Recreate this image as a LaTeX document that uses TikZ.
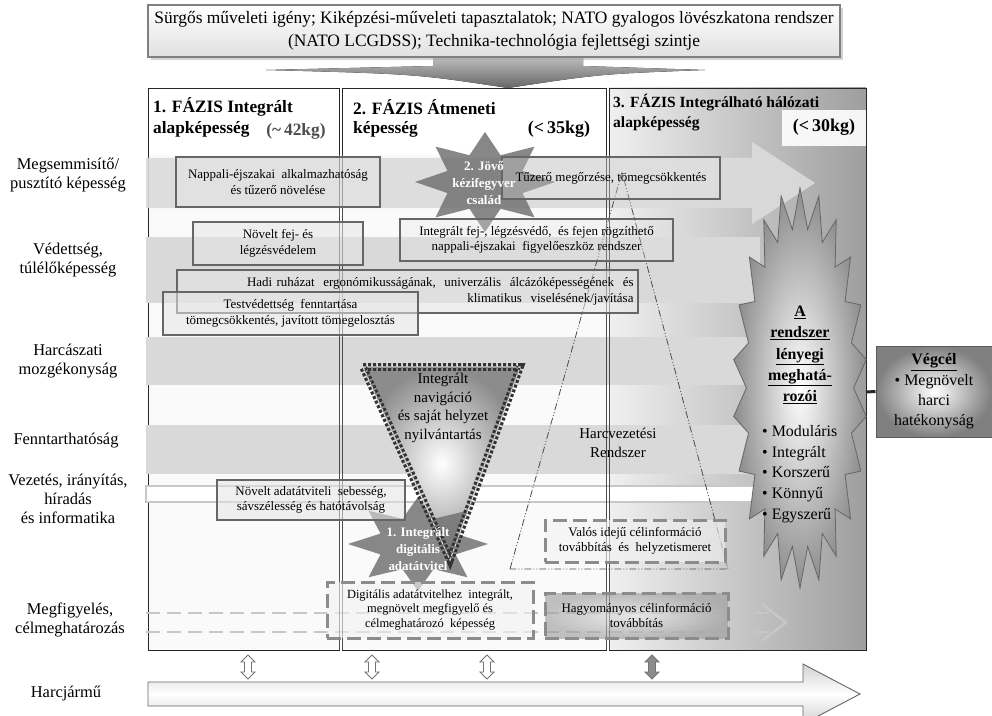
\documentclass[tikz,border=0pt]{standalone}
\usepackage{fontspec}
\setmainfont{Liberation Serif}
\usetikzlibrary{shadows}
\begin{document}
\begin{tikzpicture}[x=1bp,y=-1bp,
  lbl/.style={font=\fontsize{16.5}{19}\selectfont, align=center, inner sep=0},
  hdr/.style={font=\fontsize{17.4}{20}\selectfont\bfseries, anchor=west, inner sep=0},
  gbox/.style={draw=black!60, line width=2.6bp, fill=black!10, fill opacity=0.55, text opacity=1, align=center, font=\fontsize{13}{15.5}\selectfont, inner sep=0},
  dbox/.style={draw=black!45, line width=3bp, dash pattern=on 14bp off 6bp, fill=black!5, fill opacity=0.6, text opacity=1, align=center, font=\fontsize{13}{15.5}\selectfont, inner sep=0},
  band/.style={fill=black!15},
  sep/.style={draw=black!70, line width=0.7bp},
  colfr/.style={draw=black!85, line width=0.8bp},
  starfill/.style={fill=black!55, fill opacity=0.85, draw=none},
  startxt/.style={font=\fontsize{13}{17}\selectfont\bfseries, text=white, align=center, inner sep=0},
  dblarrow/.style={draw=black!55, fill=white, line width=0.8bp},
]
\clip (0,0) rectangle (992,716);
\fill[white] (0,0) rectangle (992,716);

% ---------- top box and arrow ----------
\fill[top color=black!25, bottom color=black!60]
  (266,70) -- (433,66) -- (433,56) -- (583,56) -- (583,66) -- (705,70)
  .. controls (600,74) .. (508,88) .. controls (416,74) .. (266,70) -- cycle;
\node[draw=black!50, line width=2bp, top color=white, bottom color=black!12,
      drop shadow={shadow xshift=3bp, shadow yshift=-3bp, fill=black!35},
      minimum width=692bp, minimum height=52bp, inner sep=0, align=center,
      font=\fontsize{17.5}{23}\selectfont] (top) at (494,31)
  {Sürgős műveleti igény; Kiképzési-műveleti tapasztalatok; NATO gyalogos lövészkatona rendszer\\(NATO LCGDSS); Technika-technológia fejlettségi szintje};

% ---------- columns ----------
\fill[black!2] (148,88) rectangle (339,650);
\fill[black!2] (342,88) rectangle (606,650);
\shade[left color=black!6, right color=black!38] (609,88) rectangle (866,650);
\fill[white] (148,88) rectangle (339,155);
\fill[white] (342,88) rectangle (606,155);
\fill[white] (516,112) rectangle (602,147);
\fill[white, opacity=0.9] (782,110) rectangle (866,146);
\draw[colfr] (148,88) rectangle (339,650);
\draw[colfr] (342,88) rectangle (606,650);
\draw[colfr] (609,88) rectangle (866,650);

% ---------- row bands ----------
\fill[black!14, opacity=0.92] (146,158) -- (752,158) -- (752,142) -- (815,183) -- (752,224) -- (752,208) -- (146,208) -- cycle;
\fill[band] (146,237) rectangle (760,303);
\fill[band] (146,337) rectangle (760,385);
\fill[band] (146,425) rectangle (760,474);
\draw[black!22, line width=1.5bp, fill=white] (146,486) rectangle (780,502);
\draw[black!22, line width=2.5bp, dash pattern=on 14bp off 7bp] (146,613) -- (770,613);
\draw[black!22, line width=2.5bp, dash pattern=on 14bp off 7bp] (146,632) -- (770,632);
\draw[black!22, line width=2.5bp] (762,604) -- (786,622.5) -- (762,641);

% column separators (double lines)
\foreach \xx in {339,342,606,609} \draw[sep] (\xx,155) -- (\xx,650);

% ---------- dash-dot triangle ----------
\draw[black!70, line width=0.8bp, dash pattern=on 7bp off 2bp on 1bp off 2bp on 1bp off 2bp]
  (510,569) -- (622,172) -- (728,569) -- cycle;

% ---------- navigation triangle fill ----------
\path[inner color=white, outer color=black!45] (363,367) -- (520,367) -- (450,560) -- cycle;

% ---------- star 2 (future weapon family) ----------
\fill[starfill] (485,132) \foreach \i in {0,...,7}{
  -- ({485+70*cos(90+45*\i)},{182-50*sin(90+45*\i)})
  -- ({485+0.58*70*cos(112.5+45*\i)},{182-0.58*50*sin(112.5+45*\i)}) } -- cycle;
% ---------- star 1 ----------
\fill[starfill] (418,497) \foreach \i in {0,...,7}{
  -- ({418+70*cos(90+45*\i)},{544-47*sin(90+45*\i)})
  -- ({418+0.58*70*cos(112.5+45*\i)},{544-0.58*47*sin(112.5+45*\i)}) } -- cycle;

% navigation triangle border
\draw[black!80, line width=3.2bp, double=black!15, double distance=1.2bp, dash pattern=on 3bp off 2bp]
  (363,367) -- (520,367) -- (450,560) -- cycle;
\node[font=\fontsize{15}{18.7}\selectfont, align=center, inner sep=0] (nav) at (443,408)
  {Integrált\\navigáció\\és saját helyzet\\nyilvántartás};
\node[font=\fontsize{15}{19}\selectfont, align=center, inner sep=0] (hvr) at (618,443)
  {Harcvezetési\\Rendszer};

% ---------- boxes ----------
\node[gbox, minimum width=204bp, minimum height=50bp] (b1) at (278,182)
  {Nappali-éjszakai \ alkalmazhatóság\\és tűzerő növelése};
\node[gbox, minimum width=218bp, minimum height=42bp, fill opacity=0.3] (b2) at (611,178)
  {Tűzerő megőrzése, tömegcsökkentés};
\node[gbox, minimum width=170bp, minimum height=43bp] (b3) at (278,243.5)
  {Növelt fej- és\\légzésvédelem};
\node[gbox, minimum width=273bp, minimum height=42bp, fill opacity=0.3] (b4) at (536.5,240)
  {Integrált fej-, légzésvédő, \ és fejen rögzíthető\\nappali-éjszakai \ figyelőeszköz rendszer};
\node[gbox, minimum width=461bp, minimum height=43bp, text width=452bp, align=right] (b5) at (407.5,291.5)
  {Hadi ruházat \ ergonómikusságának, \ univerzális \ álcázóképességének \ és\\klimatikus \ viselésének/javítása};
\node[gbox, minimum width=255bp, minimum height=43bp] (b6) at (290.5,313.5)
  {Testvédettség \ fenntartása\\tömegcsökkentés, javított tömegelosztás};
\node[gbox, minimum width=188bp, minimum height=40bp] (b7) at (311,500)
  {Növelt adatátviteli \ sebesség,\\sávszélesség és hatótávolság};
\node[dbox, minimum width=180bp, minimum height=42bp] (b8) at (635,541)
  {Valós idejű célinformáció\\továbbítás \ és \ helyzetismeret};
\node[dbox, minimum width=206bp, minimum height=56bp, font=\fontsize{12.5}{14.5}\selectfont] (b9) at (430,610)
  {Digitális adatátvitelhez \ integrált,\\megnövelt megfigyelő és\\célmeghatározó \ képesség};
\node[dbox, minimum width=183bp, minimum height=45bp, fill=none, inner color=black!10, outer color=black!40] (b10) at (636.5,615.5)
  {Hagyományos célinformáció\\továbbítás};

% star texts
\node[startxt] (s2) at (484,183) {2. Jövő\\kézifegyver\\család};
\node[startxt] (s1) at (418,549) {1. Integrált\\digitális\\adatátvitel};

% ---------- big starburst ----------
\path[draw=black!60, line width=0.8bp, inner color=white, outer color=black!45]
  (800,188) \foreach \i in {0,...,21}{
  -- ({800+67*cos(90+360/22*\i)},{388-200*sin(90+360/22*\i)})
  -- ({800+0.8*67*cos(90+360/22*\i+180/22)},{388-0.8*200*sin(90+360/22*\i+180/22)}) } -- cycle;
\node[font=\fontsize{16}{21.3}\selectfont\bfseries, align=center, inner sep=0] (sthead) at (800,355)
  {\underline{A}\\\underline{rendszer}\\\underline{lényegi}\\\underline{meghatá-}\\\underline{rozói}};
\node[font=\fontsize{16}{20.8}\selectfont, align=left, anchor=west, inner sep=0] (stlist) at (762,474)
  {• Moduláris\\• Integrált\\• Korszerű\\• Könnyű\\• Egyszerű};
\coordinate (starR) at (866,392);
\node[draw=black!65, line width=1bp, inner color=white, outer color=black!50,
      minimum width=116bp, minimum height=91bp, inner sep=0, align=center,
      font=\fontsize{16}{20.3}\selectfont] (veg) at (934,391.5)
  {\textbf{\underline{Végcél}}\\• Megnövelt\\harci\\hatékonyság};
\draw[line width=3bp, black!85] (starR) -- (veg.west);

% ---------- headers ----------
\node[hdr] (h1a) at (153,107) {1. FÁZIS Integrált};
\node[hdr] (h1b) at (153,129) {alapképesség};
\node[hdr, anchor=center, text=black!70] (h1c) at (296,131) {(\textasciitilde\,42kg)};
\node[hdr] (h2a) at (353,107) {2. FÁZIS Átmeneti};
\node[hdr] (h2b) at (353,129) {képesség};
\node[hdr, anchor=center, font=\fontsize{18}{20}\selectfont\bfseries] (h2c) at (559,129) {(<\,35kg)};
\node[hdr, font=\fontsize{15.6}{20}\selectfont\bfseries] (h3a) at (613,103) {3. FÁZIS Integrálható hálózati};
\node[hdr, font=\fontsize{15.6}{20}\selectfont\bfseries] (h3b) at (613,124) {alapképesség};
\node[hdr, anchor=center, font=\fontsize{18}{20}\selectfont\bfseries] (h3c) at (824,127) {(<\,30kg)};

% ---------- left labels ----------
\node[lbl] (l1) at (68,175) {Megsemmisítő/\\pusztító képesség};
\node[lbl] (l2) at (68,260) {Védettség,\\túlélőképesség};
\node[lbl] (l3) at (68,361) {Harcászati\\mozgékonyság};
\node[lbl] (l4) at (66,441) {Fenntarthatóság};
\node[lbl] (l5) at (68,499) {Vezetés, irányítás,\\híradás\\és informatika};
\node[lbl] (l6) at (70,620) {Megfigyelés,\\célmeghatározás};
\node[lbl] (l7) at (66,694) {Harcjármű};

% ---------- vehicle arrow ----------
\path[draw=black!60, line width=0.9bp, top color=black!18, bottom color=black!18, middle color=white]
  (148,682) -- (803,682) -- (803,664) -- (860,694) -- (803,724) -- (803,706) -- (148,706) -- cycle;

% double arrows
\foreach \cx/\cf in {248/white,372/white,487/white,652/black!45}{
  \path[dblarrow, fill=\cf] (\cx,655) -- (\cx+7,662) -- (\cx+3.5,662) -- (\cx+3.5,672) -- (\cx+7,672)
    -- (\cx,679) -- (\cx-7,672) -- (\cx-3.5,672) -- (\cx-3.5,662) -- (\cx-7,662) -- cycle;
}
\end{tikzpicture}
\end{document}
